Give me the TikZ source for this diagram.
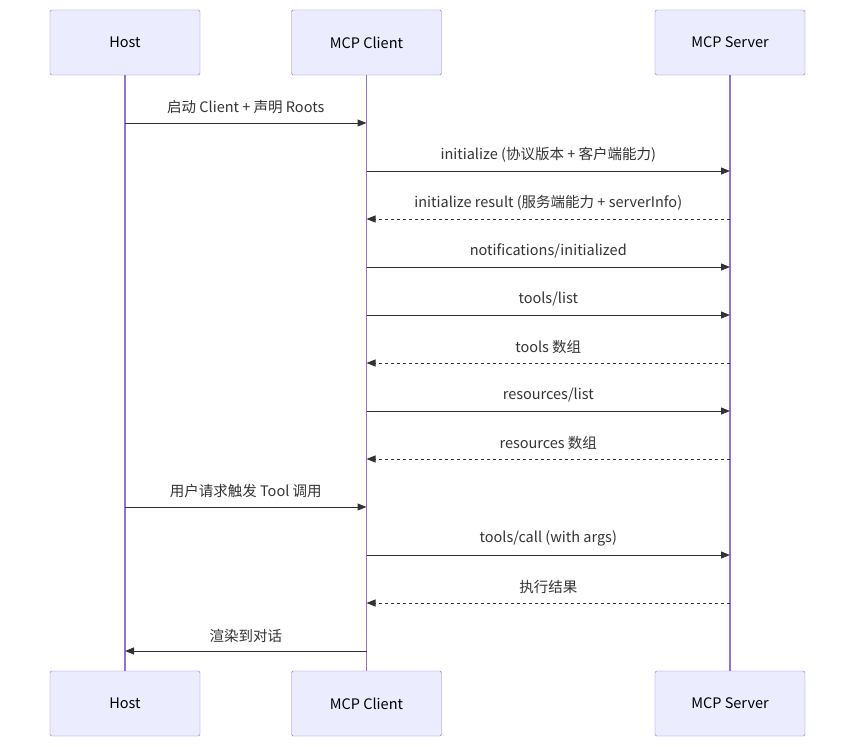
\documentclass[tikz,border=0pt]{standalone}
\usepackage{fontspec}
\setmainfont{Noto Sans CJK SC}
\usetikzlibrary{arrows.meta}
\definecolor{boxfill}{HTML}{ECECFF}
\definecolor{boxline}{HTML}{9370DB}
\definecolor{arr}{HTML}{333333}
\begin{document}
\begin{tikzpicture}[x=1pt,y=-1pt,
  actor/.style={draw=boxline,fill=boxfill,minimum width=150pt,minimum height=65pt,font=\fontsize{14.5}{17}\selectfont,rounded corners=1.5pt},
  life/.style={draw=boxline,line width=1.3pt},
  msg/.style={draw=arr,line width=1pt,-{Triangle[length=9pt,width=7pt]}},
  ret/.style={msg,dash pattern=on 3pt off 3pt},
  lbl/.style={font=\fontsize{14.5}{17}\selectfont,text=arr,above=5pt}]
\useasboundingbox (0,0) rectangle (855,747);
\foreach \n/\x/\t in {h/125/Host,c/366.5/MCP Client,s/730/MCP Server}{
  \node[actor] (\n t) at (\x,42.5) {\t};
  \node[actor] (\n b) at (\x,703.5) {\t};
  \draw[life] (\n t.south) -- (\n b.north);
}
\newcommand{\msgline}[6]{%
  \coordinate (a#6) at (#1,#3); \coordinate (b#6) at (#2,#3);
  \draw[#4] (a#6) -- node[lbl] {#5} (b#6);}
\msgline{125}{366.5}{123}{msg}{启动 Client + 声明 Roots}{1}
\msgline{366.5}{730}{171}{msg}{initialize (协议版本 + 客户端能力)}{2}
\msgline{730}{366.5}{219}{ret}{initialize result (服务端能力 + serverInfo)}{3}
\msgline{366.5}{730}{267}{msg}{notifications/initialized}{4}
\msgline{366.5}{730}{315}{msg}{tools/list}{5}
\msgline{730}{366.5}{363}{ret}{tools 数组}{6}
\msgline{366.5}{730}{411}{msg}{resources/list}{7}
\msgline{730}{366.5}{459}{ret}{resources 数组}{8}
\msgline{125}{366.5}{507}{msg}{用户请求触发 Tool 调用}{9}
\msgline{366.5}{730}{555}{msg}{tools/call (with args)}{10}
\msgline{730}{366.5}{603}{ret}{执行结果}{11}
\msgline{366.5}{125}{651}{msg}{渲染到对话}{12}
\end{tikzpicture}
\end{document}
